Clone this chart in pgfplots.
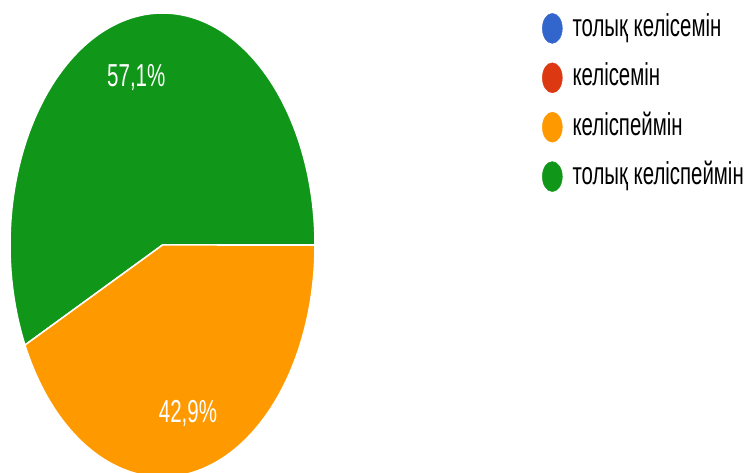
\documentclass[border=0pt]{standalone}
\usepackage{pgfplots}
\pgfplotsset{compat=1.18}
\usepackage{fontspec}
\setmainfont{Liberation Sans}
\definecolor{gblue}{HTML}{3366CC}
\definecolor{gred}{HTML}{DC3912}
\definecolor{gorange}{HTML}{FF9900}
\definecolor{ggreen}{HTML}{109618}
% shares in percent
\def\valOrange{42.9}
\def\valGreen{57.1}
\pgfmathsetmacro\angG{3.6*\valGreen}
\begin{document}
\begin{tikzpicture}[x=1pt,y=1pt]
\useasboundingbox (0,0) rectangle (746,473);
\clip (0,0) rectangle (746,473);
\begin{axis}[at={(10pt,-4pt)}, anchor=south west, scale only axis,
  width=305pt, height=464pt, xmin=-1, xmax=1, ymin=-1, ymax=1,
  hide axis, clip=false,
  legend style={draw=none, fill=none, at={(1.744,1.0)}, anchor=north west,
    inner sep=0pt, row sep=19pt, column sep=10pt,
    font=\fontsize{20.4pt}{24pt}\selectfont,
    nodes={inner sep=0pt, text height=23pt, text depth=7pt}},
  legend cell align=left]
\addplot[fill=ggreen, draw=white, line width=1.5pt, domain=0:\angG, samples=120, variable=\t, forget plot]
  ({cos(\t)},{sin(\t)}) -- (axis cs:0,0) -- cycle;
\addplot[fill=gorange, draw=white, line width=1.5pt, domain=\angG:360, samples=120, variable=\t, forget plot]
  ({cos(\t)},{sin(\t)}) -- (axis cs:0,0) -- cycle;
\node[text=white, font=\fontsize{20.5pt}{24pt}\selectfont] at (axis cs:-0.172,0.724) {\scalebox{1}[1.55]{57,1\%}};
\node[text=white, font=\fontsize{20.5pt}{24pt}\selectfont] at (axis cs:0.167,-0.728) {\scalebox{1}[1.55]{42,9\%}};
\addlegendimage{legend image code/.code={\fill[gblue] (10pt,0pt) ellipse [x radius=10pt, y radius=15pt];}}
\addlegendimage{legend image code/.code={\fill[gred] (10pt,0pt) ellipse [x radius=10pt, y radius=15pt];}}
\addlegendimage{legend image code/.code={\fill[gorange] (10pt,0pt) ellipse [x radius=10pt, y radius=15pt];}}
\addlegendimage{legend image code/.code={\fill[ggreen] (10pt,0pt) ellipse [x radius=10pt, y radius=15pt];}}
\legend{\scalebox{1}[1.55]{толық келісемін},\scalebox{1}[1.55]{келісемін},\scalebox{1}[1.55]{келіспеймін},\scalebox{1}[1.55]{толық келіспеймін}}
\end{axis}
\end{tikzpicture}
\end{document}
